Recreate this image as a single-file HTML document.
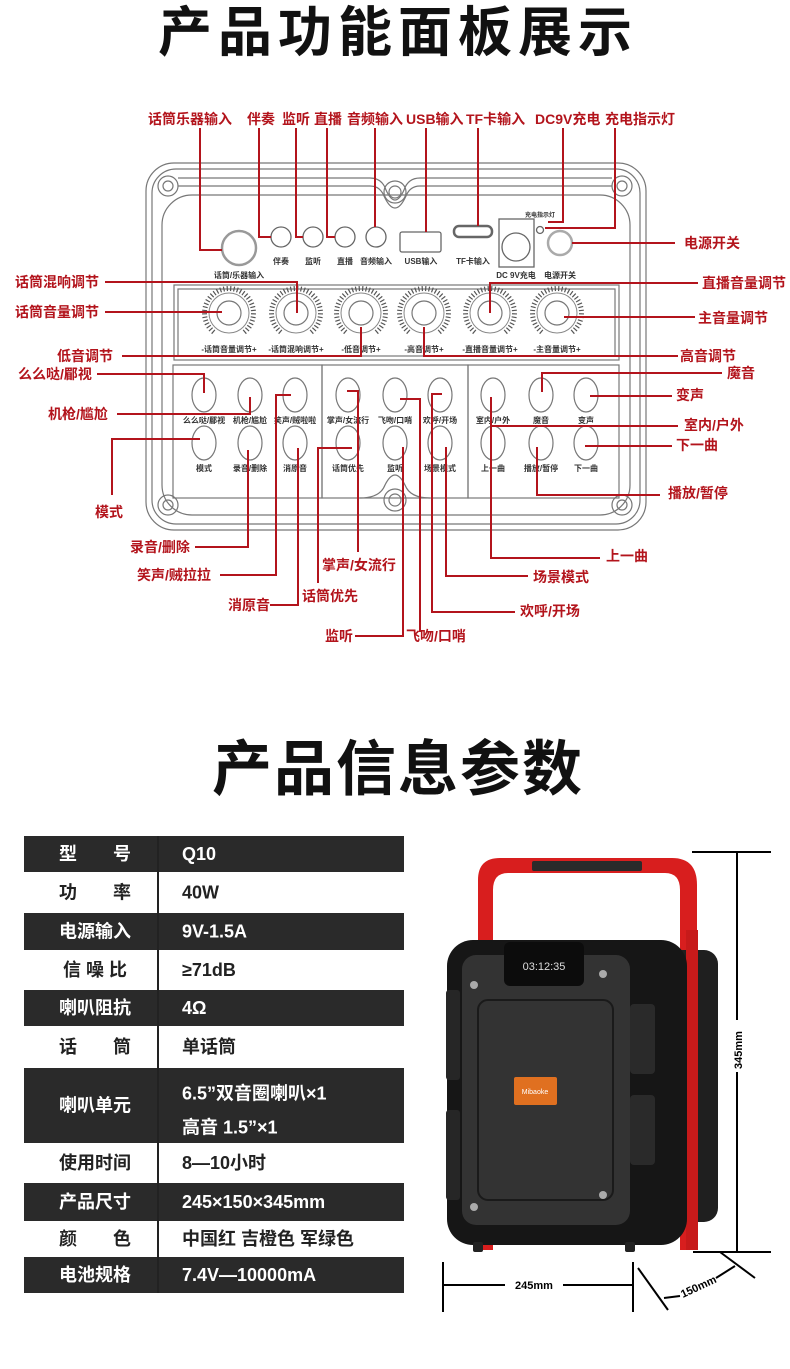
<!DOCTYPE html>
<html><head><meta charset="utf-8">
<style>
html,body{margin:0;padding:0;background:#fff;}
body{width:790px;height:1369px;overflow:hidden;position:relative;font-family:"Liberation Sans","Noto Sans CJK SC",sans-serif;}
svg{position:absolute;left:0;top:0;}
.r{fill:#b3141c;font-size:14px;font-weight:bold;}
.s{fill:#333;font-size:8px;font-weight:bold;text-anchor:middle;}
.t{fill:#111;font-size:54px;font-weight:600;text-anchor:middle;letter-spacing:6px;}
.th{font-size:18px;font-weight:bold;}
</style></head><body>
<svg width="790" height="1369" viewBox="0 0 790 1369" xmlns="http://www.w3.org/2000/svg" id="sv">
<text class="t" x="398" y="51">产品功能面板展示</text>
<text class="t" x="398" y="790" style="font-size:60px;letter-spacing:2px">产品信息参数</text>

<g fill="none" stroke="#777" stroke-width="1.2">
<rect x="146" y="163" width="500" height="367" rx="28"/>
<rect x="152" y="169" width="488" height="355" rx="24"/>
<path d="M178 178 H370 Q382 178 386 190 Q395 210 404 190 Q408 178 420 178 H612"/>
<path d="M178 186 H370 Q380 186 384 196 Q395 220 406 196 Q410 186 420 186 H612"/>
<rect x="162" y="195" width="468" height="320" rx="30"/>
<rect x="174" y="285" width="445" height="75"/>
<rect x="178" y="289" width="437" height="67"/>
<rect x="173" y="365" width="149" height="133"/>
<rect x="322" y="365" width="146" height="133"/>
<rect x="468" y="365" width="151" height="133"/>
<path d="M360 498 Q380 498 385 485 Q395 465 405 485 Q410 498 430 498"/>
<circle cx="168" cy="186" r="10"/><circle cx="168" cy="186" r="5"/>
<circle cx="622" cy="186" r="10"/><circle cx="622" cy="186" r="5"/>
<circle cx="395" cy="192" r="11"/><circle cx="395" cy="192" r="6"/>
<circle cx="168" cy="505" r="10"/><circle cx="168" cy="505" r="5"/>
<circle cx="622" cy="505" r="10"/><circle cx="622" cy="505" r="5"/>
<circle cx="395" cy="500" r="11"/><circle cx="395" cy="500" r="6"/>
</g>
<g fill="#fff" stroke="#666" stroke-width="1.3">
<circle cx="239" cy="248" r="17" stroke="#999" stroke-width="2.5"/>
<circle cx="281" cy="237" r="10"/><circle cx="313" cy="237" r="10"/><circle cx="345" cy="237" r="10"/><circle cx="376" cy="237" r="10"/>
<rect x="400" y="232" width="41" height="20" rx="2"/>
<rect x="454" y="226" width="38" height="11" rx="5" stroke-width="2.5"/>
<rect x="499" y="219" width="35" height="48"/>
<circle cx="516" cy="247" r="14"/>
<circle cx="540" cy="230" r="3.5"/>
<circle cx="560" cy="243" r="12" stroke="#aaa" stroke-width="2.5"/>
</g>
<g class="s">
<text x="239" y="278">话筒/乐器输入</text>
<text x="281" y="264">伴奏</text><text x="313" y="264">监听</text><text x="345" y="264">直播</text><text x="376" y="264">音频输入</text>
<text x="421" y="264">USB输入</text><text x="473" y="264">TF卡输入</text>
<text x="516" y="278">DC 9V充电</text><text x="560" y="278">电源开关</text>
<text x="540" y="217" style="font-size:6px">充电指示灯</text>
</g>
<g id="knobs"></g>
<g id="btns"></g>

<g fill="none" stroke="#b3141c" stroke-width="2">
<path d="M200 128 V250 H222"/>
<path d="M259 128 V237 H271"/>
<path d="M296 128 V237 H303"/>
<path d="M327 128 V237 H335"/>
<path d="M375 128 V227"/>
<path d="M426 128 V232"/>
<path d="M478 128 V226"/>
<path d="M563 128 V222 H548"/>
<path d="M615 128 V228 H545"/>
<path d="M572 243 H675"/>
<path d="M105 282 H297 V313"/>
<path d="M105 312 H222"/>
<path d="M122 356 H361 V327"/>
<path d="M424 327 V356 H678"/>
<path d="M698 283 H490 V313"/>
<path d="M564 317 H695"/>
<path d="M97 374 H204 V393"/>
<path d="M117 414 H250 V397"/>
<path d="M112 495 V439 H200"/>
<path d="M195 547 H248 V450"/>
<path d="M220 575 H276 V395 H291"/>
<path d="M270 605 H298 V448"/>
<path d="M318 583 V448 H352"/>
<path d="M358 552 V391 H347"/>
<path d="M355 636 H403 V447"/>
<path d="M420 632 V399 H400"/>
<path d="M515 612 H432 V394 H442"/>
<path d="M528 576 H446 V447"/>
<path d="M600 558 H491 V400"/>
<path d="M660 495 H537 V447"/>
<path d="M585 446 H672"/>
<path d="M491 397 V426 H678"/>
<path d="M590 396 H672"/>
<path d="M722 373 H542 V392"/>
</g>
<g class="r">
<text x="148" y="124">话筒乐器输入</text>
<text x="247" y="124">伴奏</text><text x="282" y="124">监听</text><text x="314" y="124">直播</text>
<text x="347" y="124">音频输入</text><text x="406" y="124">USB输入</text><text x="466" y="124">TF卡输入</text>
<text x="535" y="124">DC9V充电</text><text x="605" y="124">充电指示灯</text>
<text x="684" y="248">电源开关</text>
<text x="15" y="287">话筒混响调节</text>
<text x="15" y="317">话筒音量调节</text>
<text x="57" y="361">低音调节</text>
<text x="680" y="361">高音调节</text>
<text x="702" y="288">直播音量调节</text>
<text x="698" y="323">主音量调节</text>
<text x="18" y="379">么么哒/郿视</text>
<text x="48" y="419">机枪/尴尬</text>
<text x="95" y="517">模式</text>
<text x="130" y="552">录音/删除</text>
<text x="137" y="580">笑声/贼拉拉</text>
<text x="228" y="610">消原音</text>
<text x="302" y="601">话筒优先</text>
<text x="322" y="570">掌声/女流行</text>
<text x="325" y="641">监听</text>
<text x="406" y="641">飞吻/口哨</text>
<text x="520" y="616">欢呼/开场</text>
<text x="533" y="582">场景模式</text>
<text x="606" y="561">上一曲</text>
<text x="668" y="498">播放/暂停</text>
<text x="676" y="450">下一曲</text>
<text x="684" y="430">室内/户外</text>
<text x="676" y="400">变声</text>
<text x="727" y="378">魔音</text>
</g>

<g id="tbl"></g>

<g>
<path d="M478 1250 V880 Q478 858 500 858 H672 Q697 858 697 885 V1250 H680 V890 Q680 873 665 873 H508 Q493 873 493 890 V1250 Z" fill="#d81e1e"/>
<rect x="532" y="861" width="110" height="10" rx="2" fill="#2a2a2a"/>
<rect x="630" y="950" width="88" height="272" rx="14" fill="#1f1f1f"/>
<rect x="686" y="930" width="12" height="320" fill="#c71a1a"/>
<rect x="447" y="940" width="240" height="305" rx="26" fill="#161616"/>
<rect x="630" y="1004" width="25" height="70" rx="4" fill="#2a2a2a"/>
<rect x="630" y="1095" width="25" height="70" rx="4" fill="#2a2a2a"/>
<rect x="446" y="990" width="14" height="90" rx="3" fill="#262626"/>
<rect x="446" y="1110" width="14" height="90" rx="3" fill="#262626"/>
<rect x="462" y="955" width="168" height="270" rx="14" fill="#333"/>
<rect x="478" y="1000" width="135" height="200" rx="10" fill="none" stroke="#1a1a1a" stroke-width="2"/>
<rect x="504" y="942" width="80" height="44" rx="6" fill="#0c0c0c"/>
<text x="544" y="970" fill="#ddd" font-size="11" text-anchor="middle">03:12:35</text>
<rect x="514" y="1077" width="43" height="28" rx="2" fill="#e07020"/>
<text x="535" y="1094" fill="#fff" font-size="7" text-anchor="middle">Mibaoke</text>
<circle cx="474" cy="985" r="4" fill="#aaa"/><circle cx="603" cy="974" r="4" fill="#aaa"/>
<circle cx="474" cy="1207" r="4" fill="#aaa"/><circle cx="603" cy="1195" r="4" fill="#aaa"/>
<rect x="473" y="1242" width="10" height="10" rx="2" fill="#222"/><rect x="625" y="1242" width="10" height="10" rx="2" fill="#222"/>
</g>
<g stroke="#000" stroke-width="2" fill="none">
<path d="M692 852 H771 M737 852 V1020 M737 1072 V1252 M693 1252 H771"/>
<path d="M443 1262 V1312 M633 1262 V1312 M443 1285 H505 M563 1285 H633"/>
<path d="M638 1268 L668 1310 M720 1252 L755 1278 M664 1298 L680 1296 M716 1278 L735 1266"/>
</g>
<text x="0" y="0" transform="translate(742 1050) rotate(-90)" font-size="11" font-weight="bold" text-anchor="middle">345mm</text>
<text x="534" y="1289" font-size="11" font-weight="bold" text-anchor="middle">245mm</text>
<text x="0" y="0" transform="translate(700 1290) rotate(-25)" font-size="11" font-weight="bold" text-anchor="middle">150mm</text>
</svg>
<script>
var NS="http://www.w3.org/2000/svg";
function el(p,n,a,t){var e=document.createElementNS(NS,n);for(var k in a)e.setAttribute(k,a[k]);if(t)e.textContent=t;p.appendChild(e);return e;}
var kg=document.getElementById('knobs');
var kx=[229,296,361,424,490,557],kl=["-话筒音量调节+","-话筒混响调节+","-低音调节+","-高音调节+","-直播音量调节+","-主音量调节+"];
kx.forEach(function(x,i){var y=313;
for(var a=-230;a<=50;a+=8){var r=a*Math.PI/180;el(kg,'line',{x1:x+22*Math.cos(r),y1:y+22*Math.sin(r),x2:x+27*Math.cos(r),y2:y+27*Math.sin(r),stroke:'#555','stroke-width':1.2});}
el(kg,'circle',{cx:x,cy:y,r:20,fill:'#fff',stroke:'#888','stroke-width':1});
el(kg,'circle',{cx:x,cy:y,r:12,fill:'#fff',stroke:'#777','stroke-width':1.2});
el(kg,'text',{x:x,y:352,'class':'s'},kl[i]);});
var bg=document.getElementById('btns');
var bx=[204,250,295,348,395,440,493,541,586];
var l1=["么么哒/郿视","机枪/尴尬","笑声/贼啦啦","掌声/女流行","飞吻/口哨","欢呼/开场","室内/户外","魔音","变声"];
var l2=["模式","录音/删除","消原音","话筒优先","监听","场景模式","上一曲","播放/暂停","下一曲"];
bx.forEach(function(x,i){
el(bg,'ellipse',{cx:x,cy:395,rx:12,ry:17,fill:'#fff',stroke:'#777','stroke-width':1.2});
el(bg,'ellipse',{cx:x,cy:443,rx:12,ry:17,fill:'#fff',stroke:'#777','stroke-width':1.2});
el(bg,'text',{x:x,y:423,'class':'s'},l1[i]);el(bg,'text',{x:x,y:471,'class':'s'},l2[i]);});
var tg=document.getElementById('tbl');
var rows=[[836,872,"型　　号","Q10"],[872,913,"功　　率","40W"],[913,950,"电源输入","9V-1.5A"],[950,990,"信 噪 比","≥71dB"],[990,1026,"喇叭阻抗","4Ω"],[1026,1068,"话　　筒","单话筒"],[1068,1143,"喇叭单元","6.5”双音圈喇叭×1|高音 1.5”×1"],[1143,1183,"使用时间","8—10小时"],[1183,1221,"产品尺寸","245×150×345mm"],[1221,1257,"颜　　色","中国红 吉橙色 军绿色"],[1257,1293,"电池规格","7.4V—10000mA"]];
rows.forEach(function(r,i){var d=i%2==0,c=d?'#fff':'#222';
if(d)el(tg,'rect',{x:24,y:r[0],width:380,height:r[1]-r[0],fill:'#2a2a2a'});
var cy=(r[0]+r[1])/2+6;
el(tg,'text',{x:95,y:cy,'text-anchor':'middle',fill:c,'class':'th'},r[2]);
var v=r[3].split('|');
if(v.length>1){el(tg,'text',{x:182,y:cy-12,fill:c,'class':'th'},v[0]);el(tg,'text',{x:182,y:cy+22,fill:c,'class':'th'},v[1]);}
else el(tg,'text',{x:182,y:cy,fill:c,'class':'th'},v[0]);});
el(tg,'line',{x1:158,y1:836,x2:158,y2:1293,stroke:'#222','stroke-width':2});
</script>
</body></html>
